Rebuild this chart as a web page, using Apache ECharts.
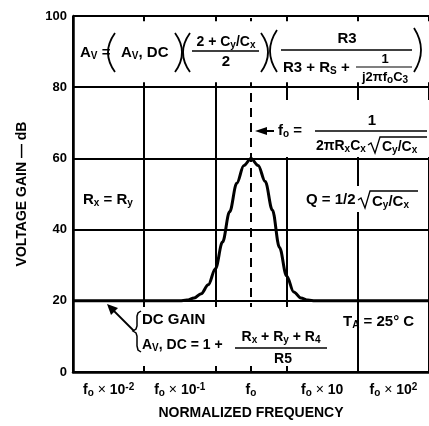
<!DOCTYPE html>
<html>
<head>
<meta charset="utf-8">
<script src="https://cdn.jsdelivr.net/npm/echarts@6/dist/echarts.min.js"></script>
<style>
  html, body { margin: 0; padding: 0; background: #fff; }
  #chart { width: 429px; height: 426px; }
</style>
</head>
<body>
<div id="chart"></div>
<script>
// curve: gain vs frequency, in decades relative to fo
const decades = [-2.5, -1.5, -1.0, -0.9, -0.8, -0.7, -0.6, -0.5, -0.4, -0.3, -0.2, -0.1, 0,
  0.1, 0.2, 0.3, 0.4, 0.5, 0.6, 0.7, 0.8, 0.9, 1.5, 2.5];
const gainDb = [20, 20, 20, 20.2, 20.8, 22, 24.5, 29, 36.5, 45, 53, 58, 60,
  58, 53.5, 45.5, 35, 27, 22.5, 20.8, 20.2, 20, 20, 20];
const freqLabels = ['f{s|o} {x|×} 10{p|-2}', 'f{s|o} {x|×} 10{p|-1}', 'f{s|o}', 'f{s|o} {x|×} 10', 'f{s|o} {x|×} 10{p|2}'];
const f0Decade = 0;
const xStart = -2.5; // left edge of the plot, in decades

const FONT = '"Liberation Sans", Arial, sans-serif';
function fs(size, weight) {
  return { fontFamily: FONT, fontWeight: weight || 'bold', fontSize: size, color: '#000', fill: '#000' };
}
const rich = {
  b15: fs(15),
  b14: fs(14),
  b13: fs(13),
  s: Object.assign(fs(10), { verticalAlign: 'bottom', padding: [6, 0, 0, 0] }),
  p: Object.assign(fs(10), { verticalAlign: 'top', padding: [0, 0, 6, 0] }),
  x: fs(14, 'normal')
};

const myChart = echarts.init(document.getElementById('chart'));

// little helpers for the formula annotations
function txt(x, y, text, size, align) {
  const key = 'b' + (size || 15);
  // wrap plain runs so they get the bold style too
  const parts = text.split(/(\{\w+\|[^}]*\})/).filter(p => p !== '');
  const rt = parts.map(p => (p.charAt(0) === '{' ? p : '{' + key + '|' + p + '}')).join('');
  return {
    type: 'text', x: x, y: y, z: 30,
    style: { text: rt, fill: '#000', align: align || 'left', verticalAlign: 'middle', rich: rich }
  };
}
function bar(x1, x2, y, w) {
  return { type: 'line', z: 30, shape: { x1: x1, y1: y, x2: x2, y2: y }, style: { stroke: '#000', lineWidth: w || 1.5 } };
}
function paren(x, top, bot, bulge) {
  // bulge < 0 -> '(' , bulge > 0 -> ')'
  return {
    type: 'bezierCurve', z: 30,
    shape: { x1: x, y1: top, x2: x, y2: bot, cpx1: x + bulge * 2, cpy1: (top + bot) / 2 },
    style: { stroke: '#000', lineWidth: 1.8, fill: null }
  };
}
function poly(points, w) {
  return { type: 'polyline', z: 30, shape: { points: points }, style: { stroke: '#000', lineWidth: w || 1.5, fill: null } };
}
function tri(points) {
  return { type: 'polygon', z: 30, shape: { points: points }, style: { fill: '#000' } };
}
function box(x, y, w, h, z) {
  return { type: 'rect', z: z || 25, shape: { x: x, y: y, width: w, height: h }, style: { fill: '#fff' } };
}

const graphics = [
  // Av = (Av, DC)((2 + Cy/Cx)/2)(R3 / (R3 + Rs + 1/(j2πfoC3)))
  txt(80, 53, 'A{s|V} ='),
  paren(115, 33, 72, -7),
  txt(121, 53, 'A{s|V}, DC'),
  paren(175, 33, 72, 7),
  paren(190, 33, 72, -7),
  txt(226, 42, '2 + C{s|y}/C{s|x}', 14, 'center'),
  bar(192, 259, 51),
  txt(226, 62, '2', 15, 'center'),
  paren(261, 33, 72, 7),
  paren(277, 30, 72, -7),
  txt(347, 39, 'R3', 15, 'center'),
  bar(281, 412, 50),
  txt(283, 68, 'R3 + R{s|S} +'),
  txt(385, 59, '1', 13, 'center'),
  bar(356, 412, 67, 1.2),
  txt(385, 77, 'j2πf{s|o}C{s|3}', 13, 'center'),
  paren(414, 28, 72, 7),

  // fo = 1 / (2πRxCx sqrt(Cy/Cx))
  box(262, 100, 167, 57),
  tri([[255, 131], [267, 127], [267, 135]]),
  bar(266, 274, 131, 2),
  txt(278, 131, 'f{s|o} ='),
  txt(372, 121, '1', 15, 'center'),
  bar(315, 427, 131),
  txt(316, 146, '2πR{s|x}C{s|x}', 14),
  poly([[368, 145], [371, 143], [375, 153], [380, 137], [427, 137]], 1.3),
  txt(382, 147, 'C{s|y}/C{s|x}', 14),

  // Rx = Ry
  txt(83, 200, 'R{s|x} = R{s|y}'),

  // Q = 1/2 sqrt(Cy/Cx)
  box(303, 186, 118, 26),
  txt(306, 200, 'Q = 1/2'),
  poly([[358, 200], [361, 198], [365, 208], [370, 191], [418, 191]], 1.3),
  txt(372, 202, 'C{s|y}/C{s|x}'),

  // DC gain note
  box(131, 307, 202, 59),
  tri([[107, 304], [118, 308], [111, 315]]),
  poly([[114, 311], [134, 331]], 1.8),
  poly([[141, 311], [138, 313], [137, 316], [137, 326], [136, 329], [133, 331], [136, 333],
    [137, 336], [137, 346], [138, 350], [141, 352]], 1.5),
  txt(142, 320, 'DC GAIN'),
  txt(142, 345, 'A{s|V}, DC = 1 +', 14),
  txt(281, 337, 'R{s|x} + R{s|y} + R{s|4}', 14, 'center'),
  bar(235, 327, 348),
  txt(283, 359, 'R5', 14, 'center'),

  // TA = 25 C
  txt(343, 322, 'T{s|A} = 25° C')
];

myChart.setOption({
  animation: false,
  backgroundColor: '#fff',
  grid: { left: 73, top: 16, width: 357, height: 356 },
  xAxis: [
    {
      type: 'value',
      min: 0,
      max: 5,
      interval: 1,
      axisLine: { show: true, lineStyle: { color: '#000', width: 2.5 } },
      axisTick: { show: false },
      axisLabel: { show: false },
      splitLine: { show: true, lineStyle: { color: '#000', width: 2 } }
    },
    {
      type: 'category',
      position: 'bottom',
      data: freqLabels,
      boundaryGap: true,
      axisLine: { show: false },
      axisTick: { show: false },
      splitLine: { show: false },
      axisLabel: {
        interval: 0,
        margin: 10,
        color: '#000',
        fontFamily: FONT,
        fontWeight: 'bold',
        fontSize: 14,
        rich: rich
      },
      name: 'NORMALIZED FREQUENCY',
      nameLocation: 'middle',
      nameGap: 34,
      nameTextStyle: { color: '#000', fontFamily: FONT, fontWeight: 'bold', fontSize: 14 }
    }
  ],
  yAxis: {
    type: 'value',
    min: 0,
    max: 100,
    interval: 20,
    axisLine: { show: true, lineStyle: { color: '#000', width: 2.5 } },
    axisTick: { show: false },
    axisLabel: { margin: 6, color: '#000', fontFamily: FONT, fontWeight: 'bold', fontSize: 13 },
    splitLine: { show: true, lineStyle: { color: '#000', width: 2 } },
    name: 'VOLTAGE GAIN — dB',
    nameLocation: 'middle',
    nameGap: 44,
    nameTextStyle: { color: '#000', fontFamily: FONT, fontWeight: 'bold', fontSize: 14 }
  },
  series: [
    {
      // dashed line at fo
      type: 'line',
      data: [],
      silent: true,
      markLine: {
        silent: true,
        symbol: ['none', 'none'],
        label: { show: false },
        lineStyle: { color: '#000', width: 2, type: [9, 6] },
        data: [{ xAxis: f0Decade - xStart }]
      }
    },
    {
      name: 'gain',
      type: 'line',
      z: 5,
      smooth: 0.35,
      smoothMonotone: 'x',
      showSymbol: false,
      lineStyle: { color: '#000', width: 3 },
      data: decades.map((d, i) => [d - xStart, gainDb[i]])
    }
  ],
  graphic: graphics
});

// blank band behind the top formula, leaving short ticks at the 80 and 100 lines
const p1 = myChart.convertToPixel({ gridIndex: 0 }, [0.03, 98.5]);
const p2 = myChart.convertToPixel({ gridIndex: 0 }, [5, 81.4]);
myChart.setOption({
  graphic: graphics.concat([box(p1[0], p1[1], p2[0] - p1[0], p2[1] - p1[1], 20)])
});
</script>
</body>
</html>
